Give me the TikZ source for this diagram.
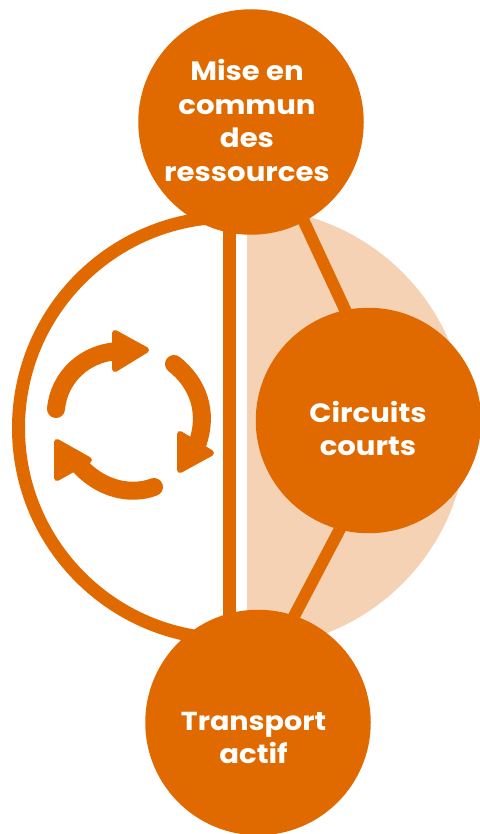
\documentclass[tikz,border=0pt]{standalone}
\usepackage{fontspec}
\setmainfont[FakeStretch=1.1]{Poppins}
\definecolor{orangeA}{HTML}{E06900}
\definecolor{peachA}{HTML}{F5D2B4}
\tikzset{
  bubble/.style={circle,fill=orangeA,inner sep=0pt,minimum size=225.5pt},
  caption/.style={text=white,inner sep=0pt,align=center,
    font=\fontsize{26.5}{33.5}\selectfont\bfseries},
  link/.style={draw=orangeA,line width=12pt},
  turn/.style={draw=orangeA,line width=18pt,line cap=round},
  tip/.style={fill=orangeA,draw=orangeA,line width=6pt,line join=round}
}
\begin{document}
\begin{tikzpicture}[x=1pt,y=-1pt]
\useasboundingbox (0,0) rectangle (479,834);
% peach half disc
\fill[peachA] (247,208) arc[start angle=-90,end angle=90,radius=220] -- cycle;
% ring and bar
\coordinate (ringTop) at (229.5,217);
\coordinate (ringBot) at (229.5,639);
\draw[link,line width=13pt] (ringTop) arc[start angle=-90,end angle=-270,radius=211];
\draw[link,line width=13pt] (ringTop) -- (ringBot);
% connectors
\coordinate (linkA) at (300,213);
\coordinate (linkB) at (348,316);
\coordinate (linkC) at (341,527);
\coordinate (linkD) at (291,622);
\draw[link] (linkA) -- (linkB);
\draw[link] (linkC) -- (linkD);
% bubbles
\node[bubble] (top) at (251,122) {};
\node[bubble] (mid) at (368.5,420.5) {};
\node[bubble] (bot) at (258,722.5) {};
\node[caption] (topText) at (247,120.5) {Mise en\\commun\\des\\ressources};
\node[caption] (midText) at (368,428.5) {Circuits\\courts};
\node[caption] (botText) at (253.5,738) {\fontsize{26}{33.5}\selectfont Transport\\actif};
% cycle icon
\draw[turn] (56,409) .. controls (59,377) and (85,352) .. (120,351);
\fill[tip] (115,333) -- (146,350) -- (115,369) -- cycle;
\draw[turn] (174,364) .. controls (198,383) and (209,412) .. (197,445);
\fill[tip] (180,434) -- (211,453) -- (180,470) -- cycle;
\draw[turn] (154,487) .. controls (130,496) and (100,489) .. (78,464);
\fill[tip] (89,460) -- (57,442) -- (57,478) -- cycle;
\end{tikzpicture}
\end{document}
